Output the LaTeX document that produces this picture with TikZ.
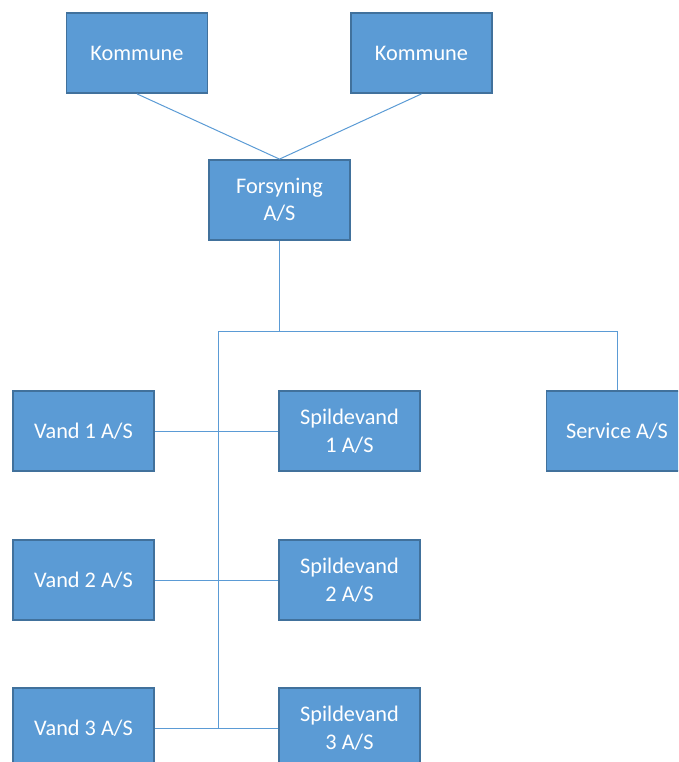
\documentclass[tikz,border=0pt]{standalone}
\usepackage{fontspec}
\setmainfont{Carlito}
\definecolor{boxfill}{HTML}{5B9BD5}
\definecolor{boxline}{HTML}{41719C}
\definecolor{linkc}{HTML}{5B9BD5}
\begin{document}
\begin{tikzpicture}[x=1pt,y=-1pt,
  orgbox/.style={draw=boxline,fill=boxfill,line width=1.8pt,minimum width=141pt,minimum height=80pt,
    inner sep=0pt,text=white,align=center,font=\fontsize{22.3}{27.5}\selectfont},
  link/.style={draw=linkc,line width=1pt}]
\useasboundingbox (0,0) rectangle (678,762);
\begin{scope}
\clip (0,0) rectangle (678,762);
\node[orgbox] (k1) at (137,53) {Kommune};
\node[orgbox] (k2) at (421.5,53) {Kommune};
\node[orgbox] (f) at (279.5,200) {Forsyning\\A/S};
\node[orgbox] (s) at (617,431) {Service A/S};
\node[orgbox] (v1) at (83.5,431) {Vand 1 A/S};
\node[orgbox] (sp1) at (349.5,431) {Spildevand\\1 A/S};
\node[orgbox] (v2) at (83.5,580) {Vand 2 A/S};
\node[orgbox] (sp2) at (349.5,580) {Spildevand\\2 A/S};
\node[orgbox] (v3) at (83.5,728) {Vand 3 A/S};
\node[orgbox] (sp3) at (349.5,728) {Spildevand\\3 A/S};
\coordinate (j) at (279.5,331);
\coordinate (jl) at (218,331);
\coordinate (jb) at (218,728);
\draw[link] (k1.south) -- (f.north);
\draw[link] (k2.south) -- (f.north);
\draw[link] (f.south) -- (j);
\draw[link] (jl) -- (s.north |- j) -- (s.north);
\draw[link] (jl) -- (jb);
\draw[link] (v1.east) -- (sp1.west);
\draw[link] (v2.east) -- (sp2.west);
\draw[link] (v3.east) -- (sp3.west);
\end{scope}
\end{tikzpicture}
\end{document}
